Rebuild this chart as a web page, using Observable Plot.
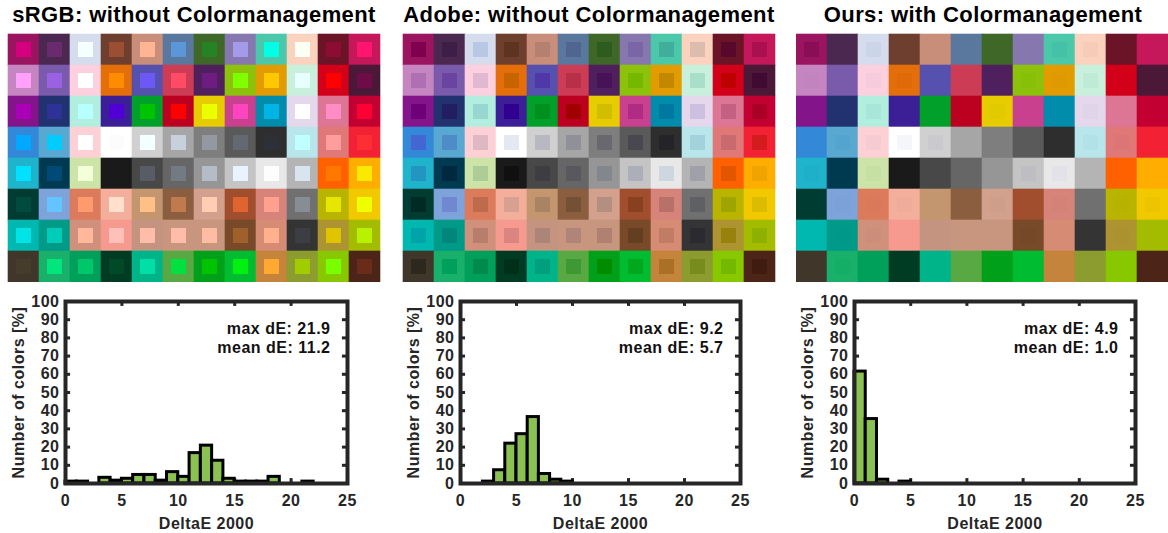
<!DOCTYPE html>
<html><head><meta charset="utf-8">
<script src="https://cdn.jsdelivr.net/npm/d3@7"></script>
<script src="https://cdn.jsdelivr.net/npm/@observablehq/plot@0.6"></script>
<style>
body{margin:0;background:#fff;}
#fig{position:relative;width:1168px;height:533px;overflow:hidden;background:#fff;font-family:"Liberation Sans",Arial,sans-serif;}
.title{position:absolute;top:3px;width:420px;text-align:center;font-size:22px;font-weight:bold;letter-spacing:0.4px;line-height:24px;color:#000;white-space:nowrap;}
.box{position:absolute;}
</style></head><body><div id="fig"></div>
<script>
// ---------- data ----------
const titles = ["sRGB: without Colormanagement", "Adobe: without Colormanagement", "Ours: with Colormanagement"];

// reference (outer) patch colours, 8 rows x 12 columns
const outerRows = [
  "#9B1460 #4B2850 #D4DCEE #6E3F2E #C98E7A #5A789E #3F6828 #8678AF #4BC8AA #FAD2BE #6B1428 #C4185A",
  "#C585C0 #7A5AAA #FCD0DE #E46E0A #5650AE #CC3C55 #50205E #8CC20C #E39C00 #C8F0DC #D20019 #4C1838",
  "#84148A #223270 #B2EEDE #3C1E96 #00A02A #BC0020 #E6CC00 #C8408E #008CAA #E6D8EC #DC7694 #C20032",
  "#3488D8 #58A8D2 #FCD0D4 #FFFFFF #D0D0D0 #A6A6A6 #7E7E7E #5A5A5A #2E2E2E #B8E6EA #E07878 #F22234",
  "#20B4CC #003A50 #CCE4A8 #1A1A1A #484848 #666666 #969696 #C4C4C4 #E8E8E8 #B4B4B4 #FF6000 #FFAE00",
  "#003C32 #7EA2DA #DC7A5C #F4AE9C #C49670 #8C5E40 #D2A08C #A04E2E #D6847A #707070 #B8B400 #F2C800",
  "#00B8B0 #009A88 #D0907C #F69A90 #C49480 #C8967E #C8967E #784A2A #D68C74 #343434 #AE9430 #A4BC00",
  "#40362A #18B06A #00A05A #003C24 #00B48A #58A844 #00A01A #00BC30 #C4843C #8C9C2E #88C800 #4C2418"
];
// displayed (inner) colours, sRGB without colour management
const innerSRGBRows = [
  "#D4007E #6A2A6E #F4FFFF #9C4E32 #FFB494 #5A96D8 #248424 #A49AEA #00FFE4 #FCFFF4 #8C0C32 #FF1470",
  "#FFA0FA #9A62E2 #FFFFFF #FF8C00 #6C58F2 #FF4C64 #6E1C82 #80FF00 #FFC800 #E8FFFF #FF0000 #6E0C48",
  "#AA00B8 #2E3296 #B8FFFF #5000D2 #00C400 #FF0000 #EAFF00 #FF44C0 #00B4E6 #FFFFFF #FF8CC4 #FF0034",
  "#00A8FF #00CCFF #FFFFFF #FCFCFC #F4FFFF #C8D0DC #9498A0 #646870 #2E3038 #C0FFFF #FF9C9C #FF2E34",
  "#00E0FF #004A78 #F2FFD8 #1A1A1A #585C64 #747A82 #B4BCC8 #EAF2FF #FDFDFD #D8E4EE #FF7800 #FAEA00",
  "#004A3E #64C4FF #FF9A6C #FFE0CC #FFC088 #C07A4E #FFCCB4 #E06430 #FFA090 #888C94 #E6E600 #F0FF00",
  "#00E4E8 #00CCBA #FFB89C #FFC0BA #FFBCA8 #FFBCA8 #FFBCA4 #A0602C #FFB08C #3C3E44 #E0C400 #B8F200",
  "#463C2C #00E67C #00C86A #004A28 #00E0A6 #00E040 #00C400 #00F012 #FFA832 #A0CC00 #78FF00 #6A2C18"
];
// displayed (inner) colours, Adobe RGB without colour management
const innerAdobeRows = [
  "#800050 #3C1E46 #B8C8E4 #5E3420 #B48070 #506690 #2E5C1E #7A66A6 #40AE9A #DCBCAC #58082A #AA1050",
  "#AE70B2 #6A44A0 #E0B8D2 #C86400 #5038A8 #B83048 #481256 #74B800 #C48800 #A8DECA #BE0000 #400A34",
  "#6E007A #221E62 #98D6D2 #300090 #00901E #A00000 #D2BE00 #B02C84 #0078A2 #CCC0E0 #C46082 #AA0028",
  "#4466D2 #4E8CC8 #E0B8C4 #E4E8F2 #B8B8C0 #909098 #68686E #48484E #242428 #A4D2DC #C86A6E #D41C1E",
  "#2296C0 #002840 #AECC96 #101010 #3E3E42 #58585E #84868E #ACAEB8 #CED6E0 #A0A0A8 #E25600 #F0A400",
  "#002A24 #7088D0 #BE6A4C #D8A090 #AA8462 #745034 #B48E7E #884020 #B87068 #5E6064 #A0A400 #DCBC00",
  "#00A4A8 #00867A #B87E6C #DC8480 #AC8478 #B08478 #B08070 #643E20 #C07C64 #2A2A30 #98820C #8EB000",
  "#2C281E #00A05C #008A4C #00301A #00A07E #3E9834 #008C00 #00A81E #AA7026 #788C1E #74B800 #401C10"
];
// displayed (inner) colours, with colour management
const innerOursRows = [
  "#8A0E55 #4A2850 #CAD6E8 #6E3F2E #C98E7A #5A789E #3F6828 #8478AE #44C2A8 #F6CCB8 #6B1428 #C4185A",
  "#C284BE #7A5AAA #F6CCDC #E06A08 #5650AE #CC3C55 #50205E #86C008 #DE9A00 #C0EAD8 #D20019 #4C1838",
  "#84148A #223270 #A8E6DA #3C1E96 #00A02A #BC0020 #E2CA00 #C8408E #008CAA #E0D4E8 #DC7694 #C20032",
  "#3488D8 #54A4D0 #F6CCD2 #F4F6FA #CACACE #A6A6A6 #7E7E7E #5A5A5A #2E2E2E #B2E2E8 #DC7676 #F22234",
  "#1EB0C8 #003A50 #C6E0A4 #1A1A1A #484848 #666666 #969696 #BEBEC2 #E2E2E8 #B4B4B4 #FF6000 #FFAE00",
  "#003C32 #7CA0D8 #DA785A #F0AC9A #C49670 #8C5E40 #CE9E8A #A04E2E #D48278 #707070 #B6B200 #EEC400",
  "#00B8B0 #009888 #CC8E7A #F69A90 #C49480 #C8967E #C8967E #744828 #D68C74 #343434 #AA922E #A4BC00",
  "#40362A #14AE66 #00A05A #003C24 #00B48A #58A844 #00A01A #00BC30 #C4843C #8C9C2E #88C800 #4C2418"
];

// histogram: bins of width 1 from 0 to 25, percentage of colours per bin
const binEdges = [0,1,2,3,4,5,6,7,8,9,10,11,12,13,14,15,16,17,18,19,20,21,22,23,24,25];
const histSRGB  = [1.04,1.04,0,3.13,1.56,2.6,4.7,4.7,1.56,6.25,3.65,16.7,20.8,12.5,2.6,1.04,1.04,1.04,3.65,0,0,1.04,0,0,0];
const histAdobe = [0,0,1.04,7.29,21.9,27.1,36.5,5.21,2.08,1.04,0,0,0,0,0,0,0,0,0,0,0,0,0,0,0];
const histOurs  = [61.5,35.4,2.08,0,1.04,0,0,0,0,0,0,0,0,0,0,0,0,0,0,0,0,0,0,0,0];
const maxDE  = [21.9, 9.2, 4.9];
const meanDE = [11.2, 5.7, 1.0];
const xTicks = [0,5,10,15,20,25];
const yTicks = [0,10,20,30,40,50,60,70,80,90,100];
const xLabel = "DeltaE 2000";
const yLabel = "Number of colors [%]";

// ---------- layout ----------
const FONT = '"Liberation Sans", Arial, sans-serif';
const fig = document.getElementById("fig");
const titleCenters = [194, 589, 983];
const gridLefts = [7, 402, 796], gridWidths = [374, 374, 372];
const histLefts = [0, 395, 789], histWidths = [380, 378, 379];
const innerSets = [innerSRGBRows, innerAdobeRows, innerOursRows];
const hists = [histSRGB, histAdobe, histOurs];

function place(node, left, top) {
  const d = document.createElement("div");
  d.className = "box";
  d.style.left = left + "px";
  d.style.top = top + "px";
  d.appendChild(node);
  fig.appendChild(d);
}

function gridChart(innerRows, w) {
  const data = [];
  outerRows.forEach((row, r) => {
    const inn = innerRows[r].split(" ");
    row.split(" ").forEach((col, c) => data.push({r, c, outer: col, inner: inn[c]}));
  });
  return Plot.plot({
    width: w, height: 249, margin: 0,
    style: {background: "transparent"},
    x: {type: "band", domain: d3.range(12), padding: 0, axis: null},
    y: {type: "band", domain: d3.range(8), padding: 0, axis: null},
    color: {type: "identity"},
    marks: [
      Plot.cell(data, {x: "c", y: "r", fill: "outer", stroke: "outer", strokeWidth: 0.6}),
      Plot.cell(data, {x: "c", y: "r", fill: "inner", inset: 8})
    ]
  });
}

function histChart(values, w, mx, mn) {
  const bins = values.map((v, i) => ({x1: binEdges[i], x2: binEdges[i + 1], v})).filter(d => d.v > 0);
  const tc = "#262626";
  return Plot.plot({
    width: w, height: 248,
    marginLeft: 65, marginRight: 33, marginTop: 16, marginBottom: 50,
    style: {fontFamily: FONT, fontSize: "16px", fontWeight: "bold", color: tc, letterSpacing: "0.5px", background: "transparent", overflow: "visible"},
    x: {domain: [0, 25], ticks: xTicks, tickSize: 0, tickPadding: 11, label: xLabel, labelAnchor: "center", labelOffset: 45, labelArrow: false},
    y: {domain: [0, 100], ticks: yTicks, tickSize: 0, tickPadding: 6, label: yLabel, labelAnchor: "center", labelOffset: 53, labelArrow: false},
    marks: [
      Plot.ruleX(xTicks, {x: d => d, y1: 0, y2: 2.7, stroke: tc, strokeWidth: 3}),
      Plot.ruleX(xTicks, {x: d => d, y1: 97.3, y2: 100, stroke: tc, strokeWidth: 3}),
      Plot.ruleY(yTicks, {y: d => d, x1: 0, x2: 0.45, stroke: tc, strokeWidth: 3}),
      Plot.ruleY(yTicks, {y: d => d, x1: 24.55, x2: 25, stroke: tc, strokeWidth: 3}),
      Plot.rectY(bins, {x1: "x1", x2: "x2", y: "v", fill: "#8BC152", stroke: "#000", strokeWidth: 3}),
      Plot.frame({stroke: tc, strokeWidth: 4}),
      Plot.text([`max dE: ${mx.toFixed(1)}\nmean dE: ${mn.toFixed(1)}`], {
        frameAnchor: "top-right", textAnchor: "end", lineAnchor: "top",
        dx: -17, dy: 19, lineHeight: 1.2, fontSize: 16, fill: "#111"
      })
    ]
  });
}

titles.forEach((t, i) => {
  const d = document.createElement("div");
  d.className = "title";
  d.style.left = (titleCenters[i] - 210) + "px";
  d.textContent = t;
  fig.appendChild(d);
  place(gridChart(innerSets[i], gridWidths[i]), gridLefts[i], 33);
  place(histChart(hists[i], histWidths[i], maxDE[i], meanDE[i]), histLefts[i], 285);
});
</script></body></html>
